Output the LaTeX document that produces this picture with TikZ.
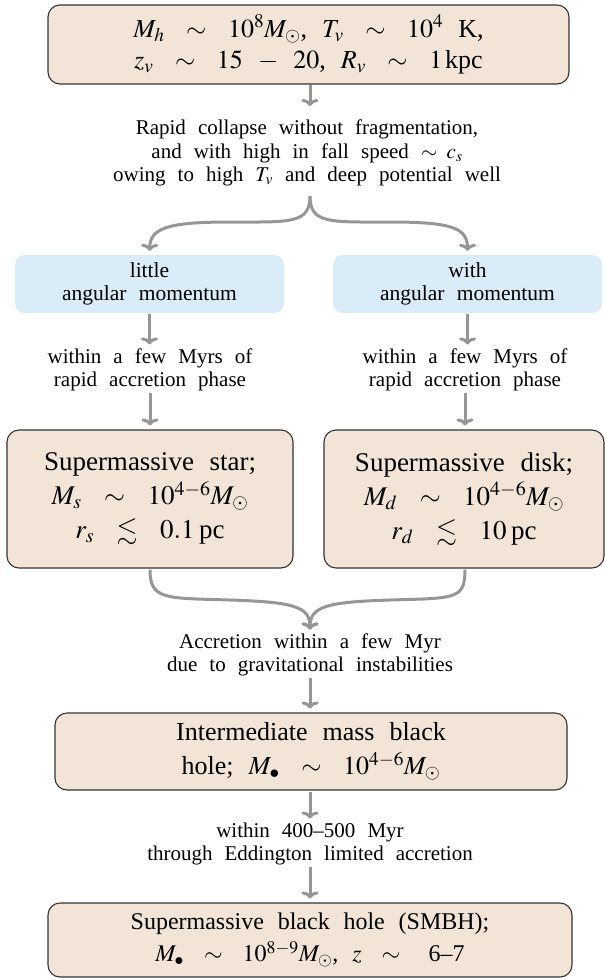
\documentclass[tikz,border=0pt]{standalone}
\usepackage{amssymb}
\usepackage{mathptmx}
\usepackage[no-math]{fontspec}
\setmainfont{Liberation Serif}[WordSpace=2.3]
\usetikzlibrary{arrows.meta}
\definecolor{boxfill}{RGB}{242,229,215}
\definecolor{notefill}{RGB}{218,236,248}
\definecolor{flowgray}{RGB}{150,150,150}
\newcommand{\simrel}{\mskip11mu\sim\mskip11mu}
\newcommand{\lesrel}{\mskip11mu\lesssim\mskip11mu}
\begin{document}
\begin{tikzpicture}[x=1pt,y=-1pt,
  stagebox/.style={draw=black!80, line width=1.1pt, fill=boxfill, rounded corners=12pt, align=center},
  notebox/.style={fill=notefill, rounded corners=10pt, align=center, minimum width=269, minimum height=58,
    font=\fontsize{21.5}{23}\selectfont},
  remark/.style={align=center, inner sep=0pt, font=\fontsize{21}{23.5}\selectfont},
  flow/.style={draw=flowgray, line width=3pt, -{To[length=7pt,width=17pt]}, shorten >=4pt, shorten <=1pt}]
\useasboundingbox (0,0) rectangle (605,980);

% starting halo
\node[stagebox, minimum width=521, minimum height=79, font=\fontsize{26}{31}\selectfont] (halo) at (308.5,44.5)
  {$M_h \simrel 10^8 M_\odot$, $T_v \simrel 10^4$ K,\\
   $z_v \simrel 15 \mskip8mu-\mskip8mu 20$, $R_v \simrel 1\,$kpc};
\node[remark] (collapse) at (307,153)
  {Rapid collapse without fragmentation,\\ and with high in fall speed $\sim\;c_s$\\ owing to high $T_v$ and deep potential well};

% two branches
\node[notebox] (little) at (149.5,284) {little\\ angular momentum};
\node[notebox] (with) at (467.5,284) {with\\ angular momentum};
\node[remark] (phasel) at (150,370) {within a few Myrs of\\ rapid accretion phase};
\node[remark] (phaser) at (465,370) {within a few Myrs of\\ rapid accretion phase};
\node[stagebox, minimum width=286, minimum height=138, font=\fontsize{27}{34}\selectfont] (star) at (150,499)
  {Supermassive star;\\ $M_s \simrel 10^{4-6} M_\odot$\\ $r_s \lesrel 0.1$\,pc};
\node[stagebox, minimum width=280, minimum height=138, font=\fontsize{27}{34}\selectfont] (disk) at (464,499)
  {Supermassive disk;\\ $M_d \simrel 10^{4-6} M_\odot$\\ $r_d \lesrel 10$\,pc};

% merging again
\node[remark] (accr) at (310,655) {Accretion within a few Myr\\ due to gravitational instabilities};
\node[stagebox, minimum width=512, minimum height=77, font=\fontsize{26}{34}\selectfont] (imbh) at (311,751.5)
  {Intermediate mass black\\ hole; $M_\bullet \simrel 10^{4-6} M_\odot$};
\node[remark] (edd) at (310,844) {within 400--500 Myr\\ through Eddington limited accretion};
\node[stagebox, minimum width=524, minimum height=74, font=\fontsize{24}{32}\selectfont] (smbh) at (310,940)
  {Supermassive black hole (SMBH);\\ $M_\bullet \simrel 10^{8-9} M_\odot$, $z \simrel$ 6--7};

\draw[flow] (310,84) -- (310,110);
\draw[flow, shorten <=3pt] (310,193) .. controls (310,224) and (290,222) .. (230,222)
  .. controls (168,222) and (150,228) .. (little.north);
\draw[flow, shorten <=3pt] (310,193) .. controls (310,224) and (330,222) .. (390,222)
  .. controls (452,222) and (467.5,228) .. (with.north);
\draw[flow] (little.south) -- (little.south |- phasel.north);
\draw[flow] (with.south) -- (with.south |- phaser.north);
\draw[flow] (phasel.south) -- (phasel.south |- star.north);
\draw[flow] (phaser.south) -- (phaser.south |- disk.north);
\draw[flow] (star.south) .. controls (150,600) and (165,598) .. (230,600)
  .. controls (292,602) and (310,606) .. (accr.north);
\draw[flow] (disk.south -| 465,0) .. controls (465,600) and (455,598) .. (390,600)
  .. controls (328,602) and (310,606) .. (accr.north);
\draw[flow] (accr.south) -- (accr.south |- imbh.north);
\draw[flow] (edd.north |- imbh.south) -- (edd.north);
\draw[flow] (edd.south) -- (edd.south |- smbh.north);
\end{tikzpicture}
\end{document}
